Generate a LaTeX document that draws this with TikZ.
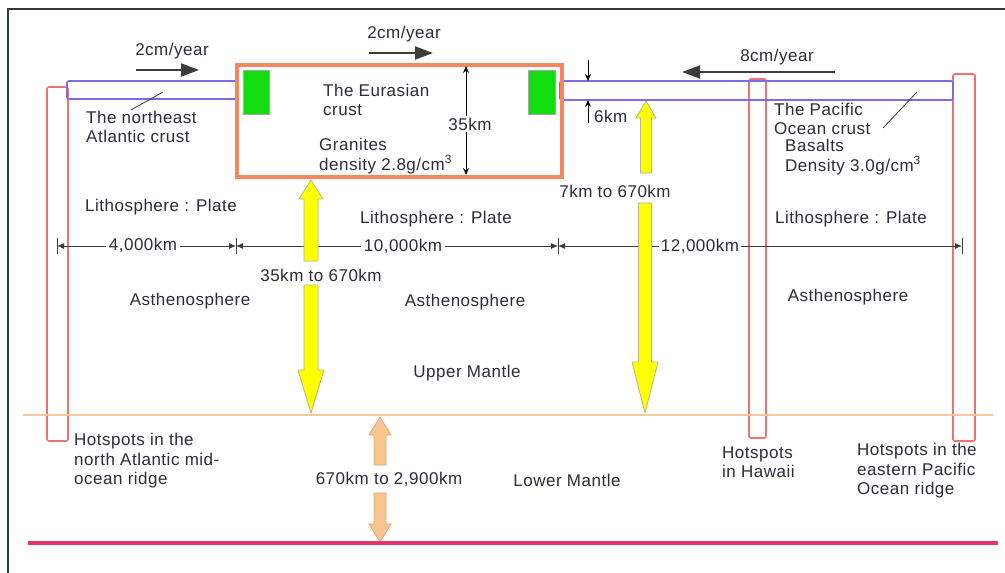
\documentclass[tikz,border=0pt]{standalone}
\usepackage{fontspec}
\setmainfont{Liberation Sans}[LetterSpace=3]
\usetikzlibrary{arrows.meta}
\definecolor{frame}{HTML}{2F3B3B}
\definecolor{crustblue}{HTML}{7A6CEB}
\definecolor{hotred}{HTML}{EE7272}
\definecolor{boxorange}{HTML}{F4885C}
\definecolor{grn}{HTML}{11DD11}
\definecolor{yel}{HTML}{FFFF00}
\definecolor{yelborder}{HTML}{B8B880}
\definecolor{tan}{HTML}{F9C48E}
\definecolor{tanborder}{HTML}{DDA878}
\definecolor{bound}{HTML}{F8C898}
\definecolor{core}{HTML}{E8336A}
\definecolor{txt}{HTML}{2C2C3A}
\definecolor{dimgr}{HTML}{3C3C3C}
\newcommand{\vblockarrow}[7]{% style, x, tail y, head base y, tip y, shaft half, head half
  \draw[#1] (#2-#6,#3) -- (#2-#6,#4) -- (#2-#7,#4) -- (#2,#5) -- (#2+#7,#4) -- (#2+#6,#4) -- (#2+#6,#3) -- cycle;}
\begin{document}
\begin{tikzpicture}[x=1pt,y=-1pt,
  every node/.style={text=txt,font=\fontsize{17}{19.5}\selectfont,inner sep=1pt},
  lbl/.style={align=left,anchor=west},
  crust/.style={draw=crustblue,line width=1.6pt,rounded corners=2pt},
  hotspot/.style={draw=hotred,line width=1.6pt,rounded corners=2pt},
  greenblock/.style={fill=grn,draw=gray!70,line width=0.6pt},
  yarrow/.style={fill=yel,draw=yelborder,line width=0.8pt,line join=miter},
  tarrow/.style={fill=tan,draw=tanborder,line width=0.8pt,line join=miter},
  speed/.style={draw=dimgr,line width=2pt,-{Triangle[length=18pt,width=13pt]}},
  dimline/.style={draw=dimgr,line width=1pt,{Latex[length=7pt,width=6pt]}-{Latex[length=7pt,width=6pt]}},
  tick/.style={draw=dimgr,line width=1pt},
  thinarrow/.style={draw=black,line width=1pt,-{Stealth[length=7pt,width=6pt]}},
  leader/.style={draw=dimgr,line width=0.8pt},
  gapfill/.style={fill=white,inner sep=3pt}]
\useasboundingbox (0,0) rectangle (1005,573);
\fill[white] (0,0) rectangle (1005,573);
% frame
\draw[frame,line width=1.5pt] (8,573) -- (8,9) -- (1005,9);

% hotspot columns
\draw[hotspot] (47,87) rectangle (68,441);
\draw[hotspot] (749,79) rectangle (766,438);
\draw[hotspot] (953,74) rectangle (975,441);

% crusts
\draw[crust] (67,81) rectangle (237,99);
\draw[crust] (560,81) rectangle (953,100);
\draw[draw=boxorange,line width=3.5pt] (237,65) rectangle (562,177);
\draw[greenblock] (243,70) rectangle (269,114);
\draw[greenblock] (528,70) rectangle (555,114);

% leader lines
\coordinate (naA) at (163,92); \coordinate (naB) at (131,110);
\draw[leader] (naA) -- (naB);
\coordinate (paA) at (917,92); \coordinate (paB) at (883,128);
\draw[leader] (paA) -- (paB);

% speed arrows
\coordinate (s1a) at (136,70); \coordinate (s1b) at (199,70);
\draw[speed] (s1a) -- (s1b);
\coordinate (s2a) at (369,53); \coordinate (s2b) at (433,53);
\draw[speed] (s2a) -- (s2b);
\coordinate (s3a) at (835,72); \coordinate (s3b) at (682,72);
\draw[speed] (s3a) -- (s3b);
\node (sp1) at (172,51) {2cm/year};
\node (sp2) at (404,34) {2cm/year};
\node (sp3) at (777,57) {8cm/year};

% 35 km
\coordinate (k35a) at (466,66); \coordinate (k35b) at (466,175);
\draw[draw=black,line width=1pt,{Stealth[length=7pt,width=6pt]}-{Stealth[length=7pt,width=6pt]}] (k35a) -- (k35b);
\node[gapfill,inner sep=2pt] (k35) at (470,124) {35km};

% 6 km
\coordinate (k6a) at (588,60); \coordinate (k6b) at (588,81);
\draw[thinarrow] (k6a) -- (k6b);
\coordinate (k6c) at (588,123); \coordinate (k6d) at (588,100);
\draw[thinarrow] (k6c) -- (k6d);
\node[anchor=west] (k6) at (593,116) {6km};

% crust labels
\node[lbl] (natl) at (85,127) {The northeast\\Atlantic crust};
\node[lbl] (eura) at (322,100) {The Eurasian\\crust};
\node[lbl] (gran) at (318,156) {Granites\\density 2.8g/cm\textsuperscript{3}};
\node[lbl] (paci) at (773,119) {The Pacific\\Ocean crust};
\node[lbl] (basa) at (784,157) {Basalts\\Density 3.0g/cm\textsuperscript{3}};

% dimension line
\coordinate (t1) at (57,246); \coordinate (t2) at (236,246);
\coordinate (t3) at (558,246); \coordinate (t4) at (962,246);
\foreach \t in {t1,t2,t3,t4} \draw[tick] ([yshift=-8pt]\t) -- ([yshift=8pt]\t);
\draw[dimline] (t1) -- (t2);
\draw[dimline] (t2) -- (t3);
\draw[dimline] (t3) -- (t4);
\node[gapfill] (d1) at (143,245) {4,000km};
\node[gapfill] (d2) at (403,246) {10,000km};
\node[gapfill,inner sep=2pt] (d3) at (700,246) {12,000km};

% yellow arrows
\vblockarrow{yarrow}{311}{261}{199}{180}{7}{12}
\vblockarrow{yarrow}{311}{285}{370}{413}{7}{13}
\vblockarrow{yarrow}{646}{173}{118}{101}{5.5}{10}
\vblockarrow{yarrow}{645}{203}{362}{413}{6.5}{13}

% tan arrows
\vblockarrow{tarrow}{380}{465}{435}{417}{6}{11}
\vblockarrow{tarrow}{380}{493}{524}{542}{6}{11}

% boundaries
\coordinate (bl) at (23,415); \coordinate (br) at (993,415);
\draw[bound,line width=2.5pt] (bl) -- (br);
\coordinate (cl) at (28,543); \coordinate (cr) at (998,543);
\draw[core,line width=3.5pt] (cl) -- (cr);

% region labels
\node (k7) at (615,191) {7km to 670km};
\node (k35b2) at (321,275) {35km to 670km};
\node (lp1) at (161,207) {Lithosphere : Plate};
\node (lp2) at (436,219) {Lithosphere : Plate};
\node (lp3) at (851,219) {Lithosphere : Plate};
\node (as1) at (190,301) {Asthenosphere};
\node (as2) at (465,302) {Asthenosphere};
\node (as3) at (848,297) {Asthenosphere};
\node (um) at (467,373) {Upper Mantle};
\node (lm) at (567,480) {Lower Mantle};
\node (k670) at (389,479) {670km to 2,900km};

% hotspot labels
\node[lbl] (h1) at (73,461) {Hotspots in the\\north Atlantic mid-\\ocean ridge};
\node[lbl] (h2) at (721,462) {Hotspots\\in Hawaii};
\node[lbl] (h3) at (856,471) {Hotspots in the\\eastern Pacific\\Ocean ridge};
\end{tikzpicture}
\end{document}
